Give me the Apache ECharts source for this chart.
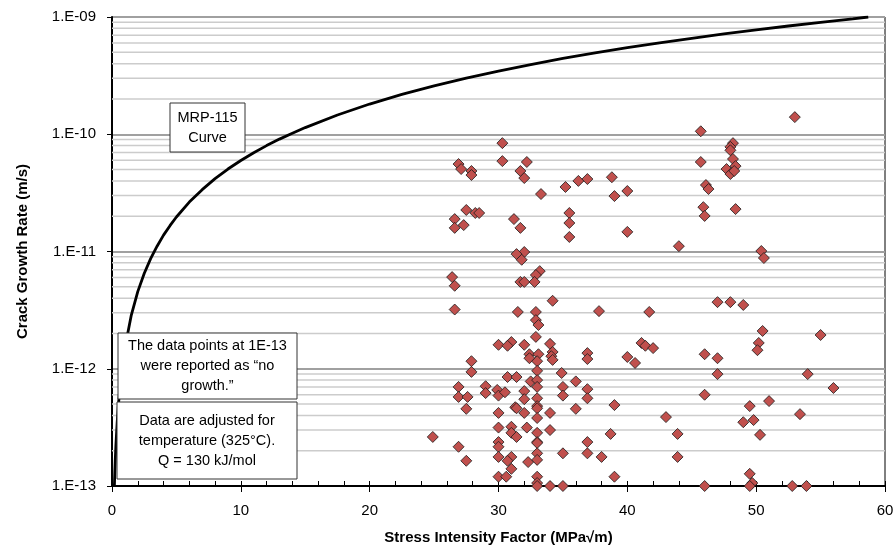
<!DOCTYPE html>
<html>
<head>
<meta charset="utf-8">
<script src="https://cdn.jsdelivr.net/npm/echarts@6.0.0/dist/echarts.min.js"></script>
<style>
html,body{margin:0;padding:0;background:#fff;}
#chart{width:895px;height:548px;}
</style>
</head>
<body>
<div id="chart"></div>
<script>
// ---- data ----
var xTicks = [0, 10, 20, 30, 40, 50, 60];
var yTickLabels = ['1.E-13', '1.E-12', '1.E-11', '1.E-10', '1.E-09'];
var minorGridValues = [
  2e-13,3e-13,4e-13,5e-13,6e-13,7e-13,8e-13,9e-13,
  2e-12,3e-12,4e-12,5e-12,6e-12,7e-12,8e-12,9e-12,
  2e-11,3e-11,4e-11,5e-11,6e-11,7e-11,8e-11,9e-11,
  2e-10,3e-10,4e-10,5e-10,6e-10,7e-10,8e-10,9e-10
];
// MRP-115 curve
var curveK = [0.185,0.22,0.25,0.3,0.4,0.5,0.6,0.7,0.8,0.9,1,1.5,2,2.5,3,3.5,4,4.5,5,6,7,8,9,10,11,12,13,14,15,17.5,20,22.5,25,27.5,30,32.5,35,37.5,40,42.5,45,47.5,50,52.5,55,57.5,58.7];
var curveRate = [1.0e-13,1.33e-13,1.63e-13,2.19e-13,3.46e-13,4.95e-13,6.62e-13,8.48e-13,1.05e-12,1.27e-12,1.5e-12,2.87e-12,4.55e-12,6.5e-12,8.7e-12,1.11e-11,1.38e-11,1.66e-11,1.97e-11,2.64e-11,3.37e-11,4.18e-11,5.05e-11,5.97e-11,6.96e-11,8.0e-11,9.09e-11,1.02e-10,1.14e-10,1.46e-10,1.81e-10,2.19e-10,2.59e-10,3.01e-10,3.46e-10,3.93e-10,4.44e-10,4.95e-10,5.49e-10,6.02e-10,6.58e-10,7.17e-10,7.77e-10,8.38e-10,9.0e-10,9.65e-10,1.0e-9];
// measured points [K (MPa√m), rate (m/s)]
var measuredPoints = [
[30.3,8.4e-11],[30.3,5.9e-11],[26.9,5.57e-11],[27.1,5.05e-11],[27.9,4.86e-11],[27.9,4.49e-11],[32.2,5.8e-11],[31.7,4.86e-11],[32.0,4.23e-11],[33.3,3.09e-11],[35.2,3.55e-11],[36.2,4.0e-11],[36.9,4.15e-11],[38.8,4.3e-11],[39.0,2.97e-11],[40.0,3.28e-11],[40.0,1.47e-11],[44.0,1.11e-11],[45.7,1.06e-10],[45.7,5.8e-11],[48.2,8.4e-11],[48.0,7.8e-11],[48.0,7.3e-11],[48.2,6.15e-11],[47.7,5.05e-11],[48.0,4.58e-11],[48.4,5.35e-11],[48.3,4.86e-11],[46.1,3.69e-11],[46.3,3.41e-11],[45.9,2.39e-11],[46.0,2.01e-11],[48.4,2.3e-11],[53.0,1.4e-10],[50.4,1.01e-11],[50.6,8.8e-12],
[27.5,2.26e-11],[28.2,2.13e-11],[28.5,2.13e-11],[26.6,1.89e-11],[26.6,1.59e-11],[27.3,1.68e-11],[31.2,1.89e-11],[31.7,1.59e-11],[35.5,2.13e-11],[35.5,1.75e-11],[35.5,1.33e-11],[32.0,9.9e-12],[31.4,9.5e-12],[31.8,8.5e-12],[26.4,6.05e-12],[26.6,5.1e-12],[33.2,6.8e-12],[32.9,6.3e-12],[31.7,5.5e-12],[32.0,5.5e-12],[32.8,5.5e-12],[34.2,3.8e-12],
[37.8,3.1e-12],[41.7,3.05e-12],[47.0,3.7e-12],[48.0,3.7e-12],[49.0,3.5e-12],[41.1,1.66e-12],[41.4,1.57e-12],[42.0,1.5e-12],[36.9,1.36e-12],[36.9,1.21e-12],[40.0,1.26e-12],[40.6,1.12e-12],[46.0,1.33e-12],[47.0,1.23e-12],[47.0,9.0e-13],[36.9,6.7e-13],[36.9,5.6e-13],[39.0,4.9e-13],[46.0,6.0e-13],[43.0,3.87e-13],[38.7,2.78e-13],[43.9,2.78e-13],[36.9,2.37e-13],[36.9,1.9e-13],[38.0,1.77e-13],[43.9,1.77e-13],[39.0,1.2e-13],[46.0,1.0e-13],[50.5,2.1e-12],[55.0,1.94e-12],[50.2,1.66e-12],[50.1,1.44e-12],[54.0,9.0e-13],[56.0,6.85e-13],[51.0,5.3e-13],[49.5,4.8e-13],[53.4,4.1e-13],[49.0,3.5e-13],[49.8,3.65e-13],[50.3,2.73e-13],[49.5,1.27e-13],[49.7,1.06e-13],[49.5,1.0e-13],[52.8,1.0e-13],[53.9,1.0e-13],
[26.6,3.2e-12],[31.5,3.05e-12],[32.9,3.05e-12],[32.9,2.6e-12],[33.1,2.36e-12],[32.9,1.87e-12],[30.0,1.6e-12],[31.0,1.69e-12],[30.7,1.57e-12],[32.0,1.6e-12],[34.0,1.63e-12],[34.2,1.39e-12],[34.1,1.28e-12],[34.2,1.19e-12],[32.4,1.33e-12],[32.4,1.23e-12],[33.1,1.33e-12],[33.0,1.16e-12],[27.9,1.16e-12],[27.9,9.4e-13],[33.0,9.6e-13],[34.9,9.2e-13],[30.7,8.5e-13],[31.4,8.5e-13],[32.5,7.8e-13],[33.0,8.0e-13],[36.0,7.8e-13],[26.9,7.0e-13],[29.0,7.1e-13],[29.0,6.2e-13],[29.9,6.6e-13],[30.0,5.9e-13],[30.5,6.3e-13],[32.0,6.45e-13],[33.0,7.0e-13],[35.0,7.0e-13],[26.9,5.75e-13],[27.6,5.75e-13],[32.0,5.5e-13],[33.0,5.6e-13],[35.0,5.9e-13],[27.5,4.55e-13],[31.3,4.7e-13],[31.4,4.6e-13],[33.0,4.8e-13],[33.0,4.6e-13],[32.0,4.2e-13],[30.0,4.2e-13],[34.0,4.2e-13],[36.0,4.55e-13],[33.0,3.8e-13],[30.0,3.15e-13],[31.0,3.2e-13],[32.2,3.15e-13],[34.0,3.0e-13],[24.9,2.62e-13],[31.0,2.84e-13],[31.4,2.62e-13],[33.0,2.84e-13],[30.0,2.37e-13],[30.0,2.16e-13],[33.0,2.37e-13],[33.0,2.33e-13],[26.9,2.16e-13],[35.0,1.9e-13],[30.0,1.77e-13],[31.0,1.77e-13],[30.7,1.64e-13],[27.5,1.64e-13],[32.3,1.6e-13],[33.0,1.9e-13],[33.0,1.67e-13],[31.0,1.4e-13],[30.0,1.2e-13],[30.6,1.2e-13],[33.0,1.2e-13],[33.0,1.06e-13],[33.0,1.0e-13],[34.0,1.0e-13],[35.0,1.0e-13]
];
var noteCurve = 'MRP-115\nCurve';
var noteNoGrowth = 'The data points at 1E-13\nwere reported as \u201cno\ngrowth.\u201d';
var noteAdjusted = 'Data are adjusted for\ntemperature (325\u00b0C).\nQ = 130 kJ/mol';

// ---- chart ----
var FONT = '"Liberation Sans Narrow", "Liberation Sans", Arial, sans-serif';
var chart = echarts.init(document.getElementById('chart'), null, {renderer: 'canvas'});
var curveData = curveK.map(function (k, i) { return [k, curveRate[i]]; });

function boxText(x, y, w, h, txt) {
  return {
    type: 'group', z: 100,
    children: [
      {type: 'rect', z: 100, shape: {x: x, y: y, width: w, height: h},
       style: {fill: '#fff', stroke: '#333', lineWidth: 1}},
      {type: 'text', z: 101, x: x + w / 2, y: y + h / 2,
       style: {text: txt, fill: '#000', font: '14.5px ' + FONT, align: 'center',
               verticalAlign: 'middle', lineHeight: 20}}
    ]
  };
}

var gridSeries = minorGridValues.map(function (v) {
  return {
    type: 'line', data: [[0, v], [60, v]], symbol: 'none', silent: true, z: 1,
    lineStyle: {color: '#cccccc', width: 1.5}, emphasis: {disabled: true}
  };
});

var option = {
  animation: false,
  backgroundColor: '#fff',
  grid: {left: 112, right: 10, top: 17, bottom: 62, containLabel: false, outerBoundsMode: 'none',
         show: true, borderColor: '#000', borderWidth: 1, backgroundColor: 'transparent'},
  xAxis: [{
    type: 'value', min: 0, max: 60, interval: 10,
    axisLine: {show: true, onZero: false, lineStyle: {color: '#000', width: 2}},
    axisTick: {show: true, inside: false, length: 6, lineStyle: {color: '#000', width: 1}},
    axisLabel: {show: true, margin: 17, color: '#000', fontSize: 15, fontFamily: FONT,
      formatter: function (v) { return xTicks.indexOf(v) >= 0 ? String(v) : ''; }},
    splitLine: {show: false},
    name: 'Stress Intensity Factor (MPa\u221am)', nameLocation: 'middle', nameGap: 44,
    nameTextStyle: {color: '#000', fontSize: 15, fontWeight: 'bold', fontFamily: FONT}
  }, {
    type: 'value', min: 0, max: 60, interval: 2, position: 'bottom',
    axisLine: {show: false},
    axisTick: {show: true, inside: true, length: 5, lineStyle: {color: '#000', width: 1}},
    axisLabel: {show: false}, splitLine: {show: false}
  }],
  yAxis: {
    type: 'log', logBase: 10, min: 1e-13, max: 1e-9,
    axisLine: {show: true, onZero: false, lineStyle: {color: '#000', width: 2}},
    axisTick: {show: true, inside: false, length: 5, lineStyle: {color: '#000', width: 1}},
    axisLabel: {margin: 16, color: '#000', fontSize: 15, fontFamily: FONT,
      formatter: function (v) {
        var e = Math.round(Math.log10(v));
        return yTickLabels[e + 13] || '';
      }},
    splitLine: {show: true, lineStyle: {color: '#a0a0a0', width: 2}},
    name: 'Crack Growth Rate (m/s)', nameLocation: 'middle', nameGap: 82,
    nameTextStyle: {color: '#000', fontSize: 15, fontWeight: 'bold', fontFamily: FONT}
  },
  series: gridSeries.concat([{
    type: 'line', data: curveData, showSymbol: false, symbol: 'none', smooth: false,
    z: 3, lineStyle: {color: '#000', width: 2.8}, clip: true
  }, {
    type: 'scatter', data: measuredPoints, symbol: 'diamond', symbolSize: [11, 11], z: 5,
    clip: false,
    itemStyle: {color: '#c0504d', opacity: 1, borderColor: '#1a1a1a', borderWidth: 0.8}
  }]),
  graphic: [
    boxText(170, 103, 75, 49, noteCurve),
    boxText(118, 333, 179, 66, noteNoGrowth),
    boxText(117, 402, 180, 77, noteAdjusted)
  ]
};
chart.setOption(option);
</script>
</body>
</html>
